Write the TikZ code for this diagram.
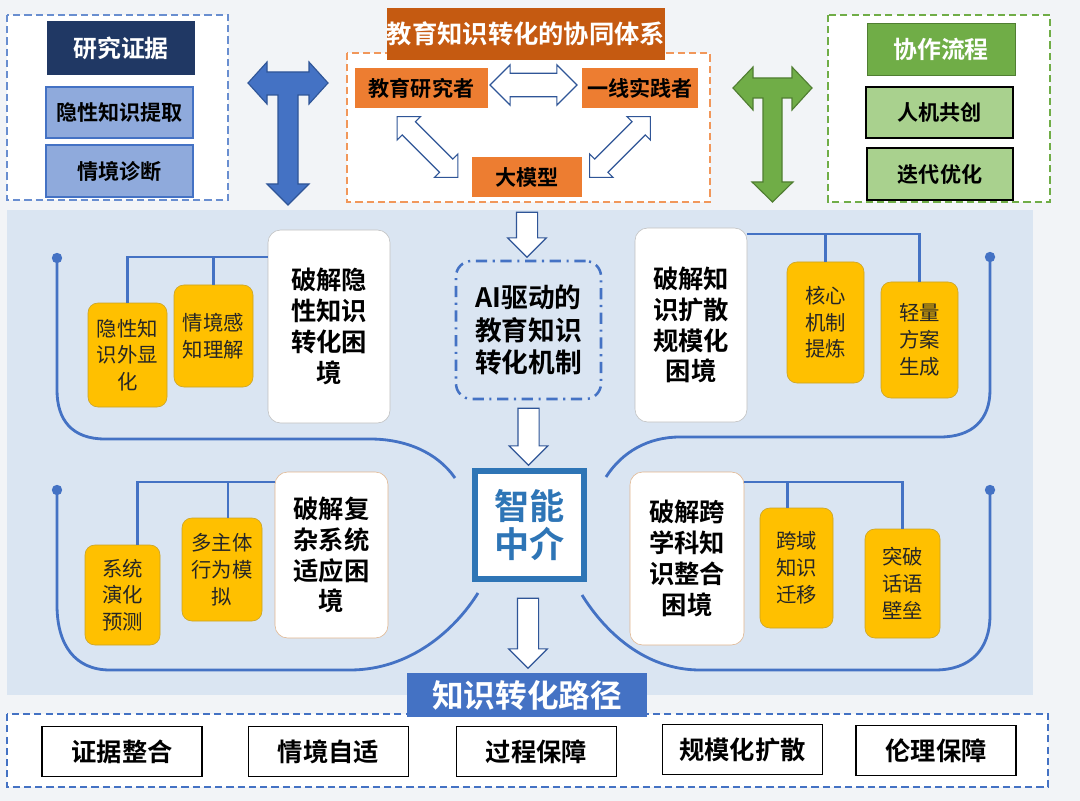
\documentclass[tikz,border=0pt]{standalone}
\usepackage{fontspec}
\setmainfont{Noto Sans CJK SC}[BoldFont={Noto Sans CJK SC Bold}]
\usetikzlibrary{shapes.arrows}

\definecolor{bgc}{HTML}{F2F4F7}
\definecolor{panel}{HTML}{DAE5F2}
\definecolor{navy}{HTML}{203864}
\definecolor{lblue}{HTML}{8FAADC}
\definecolor{mblue}{HTML}{4472C4}
\definecolor{dblue}{HTML}{2F5597}
\definecolor{sblue}{HTML}{2E75B6}
\definecolor{ogold}{HTML}{FFC000}
\definecolor{ybord}{HTML}{C9A227}
\definecolor{orng}{HTML}{ED7D31}
\definecolor{brwn}{HTML}{C55A11}
\definecolor{grn}{HTML}{70AD47}
\definecolor{lgrn}{HTML}{A9D18E}
\definecolor{dgrn}{HTML}{507E32}
\definecolor{tan}{HTML}{E0B48C}

\newcommand{\px}{0.025cm}

\begin{document}
\begin{tikzpicture}[x=0.025cm, y=-0.025cm,
    hdr/.style={inner sep=0pt, font=\bfseries\fontsize{15}{18}\selectfont},
    wbox/.style={draw=black!25, fill=white, rounded corners=9pt, align=center, inner sep=0pt, font=\bfseries\fontsize{18}{22}\selectfont},
    ybox/.style={draw=ybord, fill=ogold, rounded corners=7pt, align=center, inner sep=0pt, text=black!85, font=\fontsize{14.5}{19}\selectfont},
    pbox/.style={draw=black, line width=1.1pt, fill=white, inner sep=0pt, minimum width=160*\px, minimum height=50*\px, font=\bfseries\fontsize{18}{22}\selectfont},
    link/.style={draw=mblue, line width=2pt},
    harrow/.style={single arrow, draw=dblue, fill=white, line width=0.8pt, inner sep=0.25cm, single arrow head extend=0.22cm, rotate=-90},
    dharrow/.style={double arrow, draw=dblue, fill=white, line width=0.8pt, inner sep=0.28cm, double arrow head extend=0.21cm}
  ]

  \useasboundingbox (0,0) rectangle (1080,801);
  \fill[bgc] (0,0) rectangle (1080,801);
  \fill[panel] (7,210) rectangle (1033,695);

  % research evidence
  \draw[draw=mblue!80, line width=1.1pt, dash pattern=on 5pt off 3pt, fill=white] (7,15) rectangle (228,200);
  \node[hdr, fill=navy, text=white, font=\bfseries\fontsize{17}{20}\selectfont, minimum width=148*\px, minimum height=54*\px] (yjzj) at (121,48) {研究证据};
  \node[hdr, draw=mblue, line width=1.2pt, fill=lblue, minimum width=147*\px, minimum height=51*\px] (yxzs) at (119.5,112.5) {隐性知识提取};
  \node[hdr, draw=mblue, line width=1.2pt, fill=lblue, minimum width=147*\px, minimum height=52*\px] (qjzd) at (119.5,171) {情境诊断};

  % blue T arrow
  \draw[fill=mblue, draw=dblue, line width=0.8pt] (248,83) -- (267,62) -- (267,72) -- (309,72) -- (309,62) -- (328,83)
    -- (309,104) -- (309,95) -- (298,95) -- (298,184) -- (309,184) -- (288,205) -- (267,184) -- (278,184)
    -- (278,95) -- (267,95) -- (267,104) -- cycle;

  % collaboration system
  \draw[draw=orng!80, line width=1.1pt, dash pattern=on 5pt off 3pt, fill=white] (347,53) rectangle (710,202);
  \node[hdr, fill=brwn, text=white, font=\bfseries\fontsize{18}{21}\selectfont, minimum width=278*\px, minimum height=52*\px] (title) at (526,34) {教育知识转化的协同体系};
  \node[hdr, fill=orng, minimum width=133*\px, minimum height=40*\px] (yjz) at (421.5,88) {教育研究者};
  \node[hdr, fill=orng, minimum width=116*\px, minimum height=40*\px] (sjz) at (640,88) {一线实践者};
  \node[hdr, fill=orng, minimum width=110*\px, minimum height=40*\px] (dmx) at (527,177) {大模型};
  \node[dharrow, minimum height=87*\px] (h1) at (533.5,85) {};
  \node[dharrow, inner sep=0.22cm, double arrow head extend=0.18cm, minimum height=86*\px, rotate=-45] (h2) at (427.5,147) {};
  \node[dharrow, inner sep=0.22cm, double arrow head extend=0.18cm, minimum height=86*\px, rotate=45] (h3) at (620,147) {};

  % green T arrow
  \draw[fill=grn, draw=dgrn, line width=0.8pt] (733,88) -- (753,67) -- (753,78) -- (792,78) -- (792,67) -- (812,88)
    -- (792,110) -- (792,98) -- (782,98) -- (782,182) -- (793,182) -- (772.5,202) -- (752,182) -- (763,182)
    -- (763,98) -- (753,98) -- (753,110) -- cycle;

  % collaboration flow
  \draw[draw=grn, line width=1.1pt, dash pattern=on 5pt off 3pt, fill=white] (828,15) rectangle (1050,202);
  \node[hdr, draw=dgrn, fill=grn, text=white, font=\bfseries\fontsize{17}{20}\selectfont, minimum width=148*\px, minimum height=52*\px] (xzlc) at (941,49) {协作流程};
  \node[hdr, draw=black, line width=1.2pt, fill=lgrn, minimum width=147*\px, minimum height=51*\px] (rjgc) at (939.5,112.5) {人机共创};
  \node[hdr, draw=black, line width=1.2pt, fill=lgrn, minimum width=146*\px, minimum height=52*\px] (ddyh) at (940,174) {迭代优化};

  % mechanism and mediator
  \node[harrow, minimum height=45*\px] (a1) at (527,229.5) {};
  \node[draw=mblue, line width=1.8pt, rounded corners=11pt, dash pattern=on 8pt off 4pt on 1.5pt off 4pt, align=center, inner sep=0pt,
    minimum width=145*\px, minimum height=138*\px, font=\bfseries\fontsize{19}{23}\selectfont] (ai) at (528.5,330) {AI驱动的\\教育知识\\转化机制};
  \node[harrow, minimum height=57*\px] (a2) at (528.5,431.5) {};
  \node[draw=sblue, line width=4.2pt, fill=white, align=center, inner sep=0pt, text=sblue,
    minimum width=109*\px, minimum height=108*\px, font=\bfseries\fontsize{25}{27}\selectfont] (znzj) at (529.5,525) {智能\\中介};
  \node[harrow, minimum height=70*\px] (a3) at (528,628) {};

  % big curves
  \draw[link] (57,258) -- (57,390) .. controls (57,420) and (72,439) .. (105,439) -- (370,439) .. controls (405,439) and (437,452) .. (455,478);
  \draw[link] (990,257) -- (990,390) .. controls (990,420) and (972,437) .. (940,437) -- (680,437) .. controls (648,437) and (622,452) .. (606,477);
  \draw[link] (57,490) -- (57,605) .. controls (57,645) and (75,670) .. (110,670) -- (350,670) .. controls (410,670) and (455,630) .. (478,593);
  \draw[link] (990,490) -- (990,615) .. controls (990,650) and (970,670) .. (935,670) -- (700,670) .. controls (645,670) and (605,632) .. (582,595);
  \fill[mblue] (57,258) circle[radius=0.13cm];
  \fill[mblue] (990,257) circle[radius=0.13cm];
  \fill[mblue] (57,490) circle[radius=0.13cm];
  \fill[mblue] (990,490) circle[radius=0.13cm];

  % tacit knowledge
  \node[wbox, minimum width=122*\px, minimum height=193*\px] (tl) at (329,326.5) {破解隐\\性知识\\转化困\\境};
  \node[ybox, minimum width=79*\px, minimum height=104*\px] (ty1) at (127.5,355) {隐性知\\识外显\\化};
  \node[ybox, minimum width=79*\px, minimum height=102*\px] (ty2) at (213.5,336) {情境感\\知理解};
  \draw[link] (tl.west |- 0,257) -| (ty1.north);
  \draw[link] (ty2.north) -- (ty2.north |- 0,257);

  % diffusion at scale
  \node[wbox, minimum width=112*\px, minimum height=194*\px] (tr) at (691,325) {破解知\\识扩散\\规模化\\困境};
  \node[ybox, minimum width=77*\px, minimum height=121*\px] (tr1) at (825.5,322.5) {核心\\机制\\提炼};
  \node[ybox, minimum width=77*\px, minimum height=116*\px] (tr2) at (919.5,340) {轻量\\方案\\生成};
  \draw[link] (tr.east |- 0,234) -| (tr2.north);
  \draw[link] (tr1.north) -- (tr1.north |- 0,234);

  % complex systems
  \node[wbox, draw=tan, minimum width=113*\px, minimum height=166*\px] (bl) at (331.5,555) {破解复\\杂系统\\适应困\\境};
  \node[ybox, minimum width=75*\px, minimum height=100*\px] (bl1) at (122.5,595) {系统\\演化\\预测};
  \node[ybox, minimum width=80*\px, minimum height=103*\px] (bl2) at (222,569.5) {多主体\\行为模\\拟};
  \draw[link] (bl.west |- 0,482) -| ([xshift=15*\px]bl1.north);
  \draw[link] ([xshift=6*\px]bl2.north) -- ++(0,-36);

  % interdisciplinary integration
  \node[wbox, draw=tan, minimum width=114*\px, minimum height=173*\px] (br) at (687,558.5) {破解跨\\学科知\\识整合\\困境};
  \node[ybox, minimum width=73*\px, minimum height=120*\px] (br1) at (796.5,568) {跨域\\知识\\迁移};
  \node[ybox, minimum width=75*\px, minimum height=109*\px] (br2) at (902.5,583.5) {突破\\话语\\壁垒};
  \draw[link] (br.east |- 0,482) -| (br2.north);
  \draw[link] ([xshift=-9*\px]br1.north) -- ++(0,-26);

  % paths
  \draw[draw=mblue, line width=1.1pt, dash pattern=on 5pt off 3pt, fill=white] (7,714) rectangle (1048,787);
  \node[hdr, fill=mblue, text=white, font=\bfseries\fontsize{22.5}{25}\selectfont, minimum width=240*\px, minimum height=44*\px] (zszh) at (527,695) {知识转化路径};
  \node[pbox] (p1) at (122,751.5) {证据整合};
  \node[pbox] (p2) at (328.5,751.5) {情境自适};
  \node[pbox] (p3) at (536.5,751.5) {过程保障};
  \node[pbox] (p4) at (742.5,749.5) {规模化扩散};
  \node[pbox] (p5) at (936,750.5) {伦理保障};

\end{tikzpicture}
\end{document}
